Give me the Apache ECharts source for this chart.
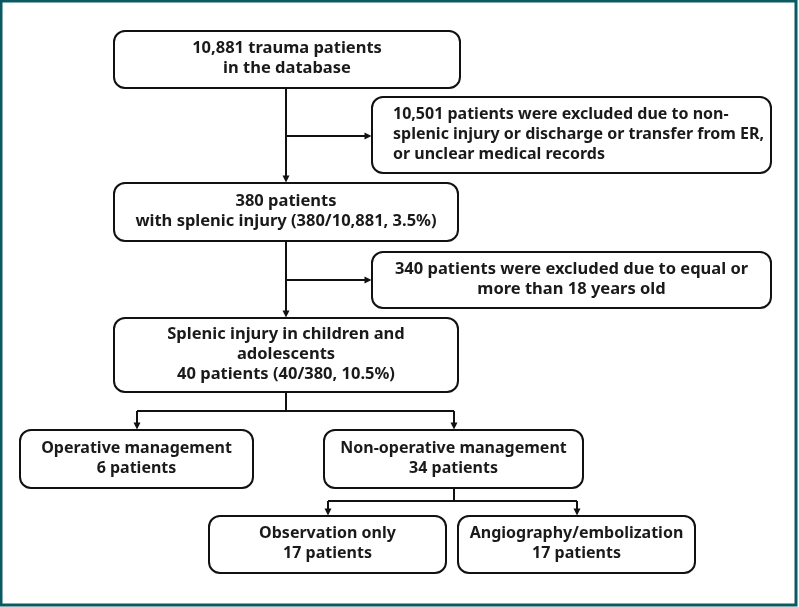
<!DOCTYPE html>
<html>
<head>
<meta charset="utf-8">
<script src="https://cdn.jsdelivr.net/npm/echarts@6/dist/echarts.min.js"></script>
<style>
html,body{margin:0;padding:0;background:#fff;}
#chart{width:799px;height:607px;}
</style>
</head>
<body>
<div id="chart"></div>
<script>
// ---- content ----
const nodeTexts = [
  ['10,881 trauma patients', 'in the database'],
  ['10,501 patients were excluded due to non-', 'splenic injury or discharge or transfer from ER,', 'or unclear medical records'],
  ['380 patients', 'with splenic injury (380/10,881, 3.5%)'],
  ['340 patients were excluded due to equal or', 'more than 18 years old'],
  ['Splenic injury in children and', 'adolescents', '40 patients (40/380, 10.5%)'],
  ['Operative management', '6 patients'],
  ['Non-operative management', '34 patients'],
  ['Observation only', '17 patients'],
  ['Angiography/embolization', '17 patients']
];
const nodeAlign = ['center', 'left', 'center', 'center', 'center', 'center', 'center', 'center', 'center'];
const nodeFontSize = [16.5, 16, 16.5, 16.5, 16.5, 16, 16, 16, 16];

// ---- layout (pixel space of the drawing grid) ----
const nodeBoxes = [
  [114, 31, 460, 88],
  [372, 97, 771, 173],
  [114, 183, 458, 241],
  [372, 252, 771, 308],
  [114, 318, 458, 392],
  [20, 430, 253, 488],
  [324, 430, 583, 488],
  [209, 516, 446, 573],
  [458, 516, 695, 573]
];
const edgePaths = [
  [[286, 88], [286, 179]],
  [[286, 136], [368, 136]],
  [[286, 241], [286, 314]],
  [[286, 280], [368, 280]],
  [[286, 392], [286, 411], [137, 411], [137, 426]],
  [[286, 411], [454, 411], [454, 426]],
  [[454, 488], [454, 501], [328, 501], [328, 512]],
  [[454, 501], [577, 501], [577, 512]]
];

const plainSegs = [];
const arrowSegs = [];
edgePaths.forEach(p => {
  for (let k = 0; k < p.length - 1; k++) {
    const seg = {coords: [p[k], p[k + 1]]};
    if (k === p.length - 2) arrowSegs.push(seg); else plainSegs.push(seg);
  }
});

const FONT = '"Noto Sans", "DejaVu Sans", sans-serif';
const chart = echarts.init(document.getElementById('chart'), null, {renderer: 'canvas'});

chart.setOption({
  backgroundColor: '#ffffff',
  animation: false,
  grid: {left: 0, right: 0, top: 0, bottom: 0},
  xAxis: {type: 'value', min: 0, max: 799, show: false},
  yAxis: {type: 'value', min: 0, max: 607, inverse: true, show: false},
  graphic: [{
    type: 'rect',
    shape: {x: 1, y: 1, width: 795, height: 604},
    style: {fill: 'none', stroke: '#0b5a62', lineWidth: 3},
    silent: true
  }],
  series: [
    {
      type: 'lines',
      coordinateSystem: 'cartesian2d',
      symbol: ['none', 'none'],
      lineStyle: {color: '#111', width: 2, opacity: 1, curveness: 0},
      data: plainSegs,
      z: 1
    },
    {
      type: 'lines',
      coordinateSystem: 'cartesian2d',
      symbol: ['none', 'triangle'],
      symbolSize: [7, 7],
      lineStyle: {color: '#111', width: 2, opacity: 1, curveness: 0},
      itemStyle: {color: '#111'},
      data: arrowSegs,
      z: 1
    },
    {
      type: 'custom',
      coordinateSystem: 'cartesian2d',
      data: nodeTexts.map((t, i) => [i]),
      renderItem: function (params, api) {
        const i = api.value(0);
        const b = nodeBoxes[i];
        const p0 = api.coord([b[0], b[1]]);
        const p1 = api.coord([b[2], b[3]]);
        const w = p1[0] - p0[0], h = p1[1] - p0[1];
        const left = nodeAlign[i] === 'left';
        return {
          type: 'group',
          children: [
            {
              type: 'rect',
              shape: {x: p0[0], y: p0[1], width: w, height: h, r: 11},
              style: {fill: '#fff', stroke: '#111', lineWidth: 2}
            },
            {
              type: 'text',
              style: {
                text: nodeTexts[i].join('\n'),
                x: left ? p0[0] + 21 : p0[0] + w / 2,
                y: p0[1] + h / 2 - 1,
                align: left ? 'left' : 'center',
                verticalAlign: 'middle',
                fontFamily: FONT,
                fontWeight: 'bold',
                fontSize: nodeFontSize[i],
                lineHeight: 20,
                fill: '#1a1a1a'
              }
            }
          ]
        };
      },
      z: 2
    }
  ]
});
</script>
</body>
</html>
